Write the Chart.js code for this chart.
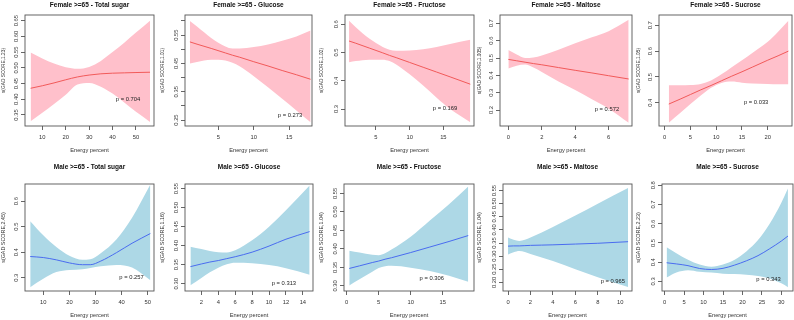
<!DOCTYPE html>
<html><head><meta charset="utf-8">
<script src="https://cdn.jsdelivr.net/npm/chart.js@4/dist/chart.umd.min.js"></script>
<style>
html,body{margin:0;padding:0;background:#fff;}
#wrap{position:relative;width:794px;height:320px;overflow:hidden;background:#fff;}
#wrap canvas{position:absolute;}
</style></head><body><div id="wrap"></div>
<script>
// ---------- data ----------
const panelTitles = [
  "Female >=65 - Total sugar","Female >=65 - Glucose","Female >=65 - Fructose","Female >=65 - Maltose","Female >=65 - Sucrose",
  "Male >=65 - Total sugar","Male >=65 - Glucose","Male >=65 - Fructose","Male >=65 - Maltose","Male >=65 - Sucrose"
];
const yTitles = [
  "s(GAD SCORE,1.23)","s(GAD SCORE,1.01)","s(GAD SCORE,1.02)","s(GAD SCORE,1.005)","s(GAD SCORE,1.05)",
  "s(GAD SCORE,2.45)","s(GAD SCORE,1.16)","s(GAD SCORE,1.04)","s(GAD SCORE,1.04)","s(GAD SCORE,2.23)"
];
const xTitle = "Energy percent";
const pLabels = ["p = 0.704","p = 0.273","p = 0.169","p = 0.572","p = 0.033","p = 0.257","p = 0.313","p = 0.306","p = 0.965","p = 0.343"];

const energyX = [
  [5, 10, 15, 20, 25, 30, 35, 40, 45, 50, 56],
  [1, 2, 4, 6, 7, 8, 10, 12, 14, 16, 18],
  [1, 2, 4, 6, 7, 8, 10, 12, 14, 16, 19],
  [0, 0.5, 1, 1.5, 2, 3, 4, 5, 6, 7.2],
  [0.8, 3, 5, 7, 9, 11, 13, 15, 17, 20, 22, 24],
  [5, 10, 15, 20, 25, 28, 32, 38, 44, 51],
  [0.7, 2, 3, 4, 5, 6, 8, 10, 12, 14.8],
  [0.4, 2, 4, 5, 6, 7, 10, 13, 16, 19],
  [0, 0.5, 1, 1.5, 2, 3, 4, 6, 8, 10.7],
  [0.5, 3, 6, 9, 12, 15, 18, 21, 24, 27, 30, 31.7]
];
const fitValues = [
  [0.435, 0.443, 0.452, 0.462, 0.471, 0.477, 0.481, 0.483, 0.484, 0.485, 0.486],
  [0.526, 0.518, 0.503, 0.487, 0.479, 0.472, 0.456, 0.441, 0.425, 0.410, 0.394],
  [0.541, 0.533, 0.516, 0.499, 0.490, 0.482, 0.465, 0.448, 0.431, 0.414, 0.388],
  [0.492, 0.484, 0.476, 0.468, 0.461, 0.445, 0.429, 0.414, 0.398, 0.379],
  [0.395, 0.414, 0.432, 0.450, 0.467, 0.485, 0.503, 0.520, 0.538, 0.565, 0.582, 0.600],
  [0.383, 0.379, 0.370, 0.358, 0.351, 0.351, 0.365, 0.398, 0.435, 0.473],
  [0.345, 0.352, 0.357, 0.361, 0.366, 0.371, 0.383, 0.399, 0.417, 0.437],
  [0.347, 0.354, 0.363, 0.367, 0.372, 0.376, 0.390, 0.405, 0.420, 0.436],
  [0.338, 0.339, 0.339, 0.340, 0.341, 0.342, 0.343, 0.346, 0.349, 0.355],
  [0.397, 0.391, 0.382, 0.367, 0.362, 0.368, 0.385, 0.407, 0.434, 0.470, 0.510, 0.536]
];
const upperValues = [
  [0.549, 0.530, 0.514, 0.502, 0.497, 0.503, 0.522, 0.550, 0.580, 0.612, 0.650],
  [0.600, 0.580, 0.540, 0.510, 0.503, 0.503, 0.508, 0.517, 0.530, 0.545, 0.566],
  [0.613, 0.590, 0.550, 0.520, 0.510, 0.506, 0.507, 0.512, 0.520, 0.530, 0.545],
  [0.546, 0.520, 0.500, 0.503, 0.515, 0.548, 0.585, 0.620, 0.655, 0.720],
  [0.468, 0.468, 0.469, 0.473, 0.486, 0.510, 0.538, 0.565, 0.593, 0.636, 0.675, 0.718],
  [0.521, 0.466, 0.420, 0.386, 0.370, 0.372, 0.396, 0.450, 0.535, 0.665],
  [0.397, 0.391, 0.386, 0.383, 0.382, 0.388, 0.414, 0.450, 0.493, 0.558],
  [0.395, 0.390, 0.384, 0.383, 0.388, 0.398, 0.433, 0.477, 0.521, 0.569],
  [0.371, 0.362, 0.358, 0.362, 0.371, 0.390, 0.411, 0.455, 0.500, 0.560],
  [0.478, 0.447, 0.413, 0.388, 0.376, 0.388, 0.413, 0.456, 0.515, 0.600, 0.710, 0.783]
];
const lowerValues = [
  [0.330, 0.357, 0.385, 0.414, 0.447, 0.452, 0.440, 0.418, 0.390, 0.360, 0.328],
  [0.450, 0.455, 0.463, 0.460, 0.452, 0.440, 0.405, 0.366, 0.325, 0.284, 0.242],
  [0.466, 0.470, 0.475, 0.475, 0.470, 0.458, 0.423, 0.383, 0.340, 0.300, 0.253],
  [0.440, 0.455, 0.462, 0.445, 0.420, 0.365, 0.315, 0.262, 0.208, 0.127],
  [0.323, 0.360, 0.395, 0.428, 0.458, 0.477, 0.482, 0.478, 0.475, 0.473, 0.472, 0.472],
  [0.263, 0.296, 0.322, 0.330, 0.333, 0.338, 0.345, 0.350, 0.340, 0.290],
  [0.296, 0.315, 0.330, 0.342, 0.351, 0.355, 0.354, 0.349, 0.341, 0.324],
  [0.301, 0.318, 0.338, 0.348, 0.353, 0.354, 0.349, 0.340, 0.327, 0.311],
  [0.306, 0.315, 0.320, 0.316, 0.308, 0.295, 0.281, 0.250, 0.219, 0.182],
  [0.320, 0.346, 0.358, 0.350, 0.346, 0.340, 0.338, 0.335, 0.328, 0.315, 0.290, 0.270]
];
// p-value label anchors (data units)
const pLabelX = [46.6, 15.1, 15.25, 5.9, 17.75, 43.8, 11.76, 13.3, 9.34, 26.7];
const pLabelY = [0.400, 0.265, 0.303, 0.204, 0.401, 0.301, 0.301, 0.321, 0.203, 0.312];

// tick labels
const xTickValues = [
  [10,20,30,40,50],[5,10,15],[5,10,15],[0,2,4,6],[0,5,10,15,20],
  [10,20,30,40,50],[2,4,6,8,10,12,14],[0,5,10,15],[0,2,4,6,8,10],[0,5,10,15,20,25,30]
];
const yTickValues = [
  [0.35,0.40,0.45,0.50,0.55,0.60,0.65],
  [0.25,0.30,0.35,0.40,0.45,0.50,0.55,0.60],
  [0.3,0.4,0.5,0.6],
  [0.2,0.3,0.4,0.5,0.6,0.7],
  [0.4,0.5,0.6,0.7],
  [0.3,0.4,0.5,0.6],
  [0.30,0.35,0.40,0.45,0.50,0.55],
  [0.30,0.35,0.40,0.45,0.50,0.55],
  [0.20,0.25,0.30,0.35,0.40,0.45,0.50,0.55],
  [0.3,0.4,0.5,0.6,0.7,0.8]
];
const yTickText = [
  ["0.35","0.40","0.45","0.50","0.55","0.60","0.65"],
  ["0.25","","0.35","","0.45","","0.55",""],
  ["0.3","0.4","0.5","0.6"],
  ["0.2","0.3","0.4","0.5","0.6","0.7"],
  ["0.4","0.5","0.6","0.7"],
  ["0.3","0.4","0.5","0.6"],
  ["0.30","0.35","0.40","0.45","0.50","0.55"],
  ["0.30","0.35","0.40","0.45","0.50","0.55"],
  ["0.20","0.25","0.30","0.35","0.40","0.45","0.50","0.55"],
  ["0.3","0.4","0.5","0.6","0.7","0.8"]
];
// axis ranges
const xRange = [[2.6,57.7],[0.31,18.2],[0.4,19.55],[-0.5,7.4],[-1.1,24.7],[3.0,52.4],[0.06,15.2],[-0.42,19.9],[-0.45,11.05],[-0.69,33.0]];
const yRange = [[0.315,0.668],[0.229,0.621],[0.24,0.633],[0.108,0.748],[0.31,0.74],[0.248,0.667],[0.281,0.562],[0.286,0.5755],[0.167,0.575],[0.25,0.807]];

// ---------- layout / style ----------
const FAMILY = '"Liberation Sans", Arial, Helvetica, sans-serif';
const panelLeft = [0, 159, 318, 476, 635, 0, 159, 318, 476, 635];
const boxLeft  = [25, 185, 345, 500, 659, 25, 185, 344, 503, 662];
const boxRight = [154, 312, 474, 632, 792, 154, 313, 474, 632, 793];
const rowTop = [0, 160];
const boxTopRel = [15, 24];
const boxBottomRel = [126, 131];
const titleCenterRel = [5, 7];
const TITLE_SIZE = 6.5, TICK_SIZE = 5.8, XT_SIZE = 5.7;
const yTitleSize = [4.8, 5.4];

const measureCtx = document.createElement('canvas').getContext('2d');
function textWidth(t, size){ measureCtx.font = size + 'px ' + FAMILY; return measureCtx.measureText(t).width; }

const framePlugin = {
  id: 'frame',
  afterDraw(c) {
    const {ctx, chartArea: a} = c;
    ctx.save();
    ctx.strokeStyle = '#555';
    ctx.lineWidth = 0.9;
    ctx.strokeRect(a.left, a.top, a.right - a.left, a.bottom - a.top);
    ctx.restore();
  }
};
const pPlugin = {
  id: 'pvalue',
  afterDatasetsDraw(c, args, opts) {
    const {ctx} = c;
    const x = c.scales.x.getPixelForValue(opts.x);
    const y = c.scales.y.getPixelForValue(opts.y);
    ctx.save();
    ctx.font = TICK_SIZE + 'px ' + FAMILY;
    ctx.fillStyle = '#222';
    ctx.textAlign = 'center';
    ctx.textBaseline = 'middle';
    ctx.fillText(opts.text, x, y);
    ctx.restore();
  }
};

const wrap = document.getElementById('wrap');
for (let i = 0; i < 10; i++) {
  const row = i < 5 ? 0 : 1;
  const female = row === 0;
  const band = female ? '#ffc0cb' : '#add8e6';
  const lineCol = female ? '#f25a5a' : '#4a6cf0';
  const cv = document.createElement('canvas');
  const W = boxRight[i] - panelLeft[i] + 2;
  const H = 160;
  cv.width = W; cv.height = H;
  cv.style.left = panelLeft[i] + 'px';
  cv.style.top = rowTop[row] + 'px';
  cv.style.width = W + 'px'; cv.style.height = H + 'px';
  wrap.appendChild(cv);

  const yAxisW = boxLeft[i] - panelLeft[i];
  const xAxisH = H - boxBottomRel[row];
  const titleLH = TITLE_SIZE * 1.2;
  const tPadTop = titleCenterRel[row] - titleLH / 2;
  const tPadBottom = boxTopRel[row] - tPadTop - titleLH;
  const widest = Math.max(...yTickText[i].map(t => textWidth(t, TICK_SIZE)));
  const yTickPad = 9 - 4 - widest / 2;
  const ytSize = yTitleSize[row];
  const ytPadTop = Math.max(0, 3.2 - ytSize * 0.6);
  const xtLH = XT_SIZE * 1.2;
  const xtPadBottom = (row === 0 ? 10 : 5) - xtLH / 2;

  const pts = arr => energyX[i].map((x, k) => ({x: x, y: arr[k]}));
  new Chart(cv, {
    type: 'line',
    data: {
      datasets: [
        {data: pts(lowerValues[i]), order: 2, borderWidth: 0, borderColor: 'rgba(0,0,0,0)', backgroundColor: band, pointRadius: 0, fill: false, cubicInterpolationMode: 'monotone'},
        {data: pts(upperValues[i]), order: 2, borderWidth: 0, borderColor: 'rgba(0,0,0,0)', backgroundColor: band, pointRadius: 0, fill: '-1', cubicInterpolationMode: 'monotone'},
        {data: pts(fitValues[i]), order: 0, borderWidth: 1, borderColor: lineCol, pointRadius: 0, fill: false, cubicInterpolationMode: 'monotone'}
      ]
    },
    options: {
      responsive: false,
      animation: false,
      events: [],
      layout: {padding: {left: 0, right: 2, top: 0, bottom: 0}},
      plugins: {
        legend: {display: false},
        tooltip: {enabled: false},
        filler: {drawTime: 'beforeDatasetsDraw'},
        title: {display: true, text: panelTitles[i], fullSize: false, color: '#111',
                font: {family: FAMILY, size: TITLE_SIZE, weight: 'bold'},
                padding: {top: tPadTop, bottom: tPadBottom}},
        pvalue: {text: pLabels[i], x: pLabelX[i], y: pLabelY[i]}
      },
      scales: {
        x: {
          type: 'linear', position: 'bottom', min: xRange[i][0], max: xRange[i][1],
          afterBuildTicks: s => { s.ticks = xTickValues[i].map(v => ({value: v})); },
          afterFit: s => { s.height = xAxisH; },
          ticks: {autoSkip: false, minRotation: 0, maxRotation: 0, padding: 3.6, color: '#333',
                  font: {family: FAMILY, size: TICK_SIZE}, callback: v => String(v)},
          grid: {display: true, drawOnChartArea: false, drawTicks: true, tickLength: 4, color: '#555', lineWidth: 0.9},
          border: {display: false},
          title: {display: true, text: xTitle, color: '#333', font: {family: FAMILY, size: XT_SIZE},
                  padding: {top: 0, bottom: xtPadBottom}}
        },
        y: {
          type: 'linear', position: 'left', min: yRange[i][0], max: yRange[i][1],
          afterBuildTicks: s => { s.ticks = yTickValues[i].map(v => ({value: v})); },
          afterFit: s => { s.width = yAxisW; },
          ticks: {autoSkip: false, minRotation: 90, maxRotation: 90, crossAlign: 'center', padding: yTickPad,
                  color: '#333', font: {family: FAMILY, size: TICK_SIZE},
                  callback: (v, k) => yTickText[i][k]},
          grid: {display: true, drawOnChartArea: false, drawTicks: true, tickLength: 4, color: '#555', lineWidth: 0.9},
          border: {display: false},
          title: {display: true, text: yTitles[i], color: '#333', font: {family: FAMILY, size: ytSize},
                  padding: {top: ytPadTop, bottom: 0}}
        }
      }
    },
    plugins: [framePlugin, pPlugin]
  });
}
</script>
</body></html>
